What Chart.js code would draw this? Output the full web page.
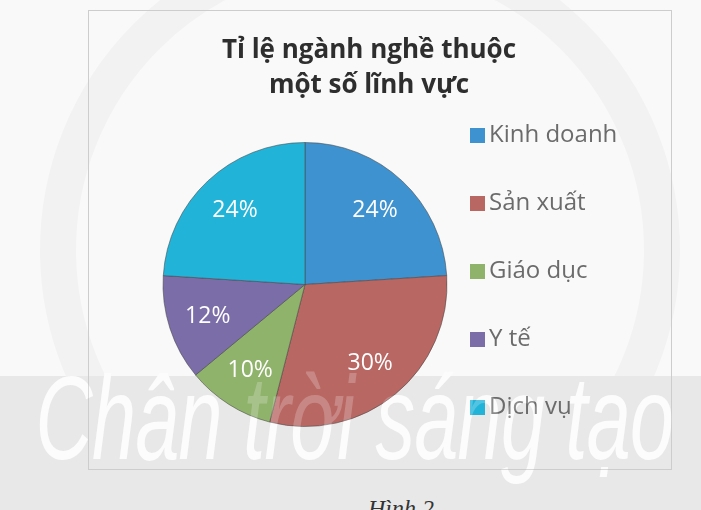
<!DOCTYPE html>
<html>
<head>
<meta charset="utf-8">
<script src="https://cdn.jsdelivr.net/npm/chart.js@4"></script>
<style>
  body { margin: 0; width: 701px; height: 510px; overflow: hidden; position: relative; background: #f9f9f9; font-family: "Open Sans", sans-serif; }
  #ring { position: absolute; left: 40px; top: -70px; width: 640px; height: 640px; border-radius: 50%; border: 36px solid #f2f2f2; box-sizing: border-box; }
  #band { position: absolute; left: 0; top: 376px; width: 701px; height: 134px; background: #e8e8e8; }
  .mark { position: absolute; left: -296px; top: 350px; width: 1301px; text-align: center; font-family: "Liberation Sans", sans-serif; font-style: italic; font-size: 118px; white-space: nowrap; transform: scaleX(0.67); letter-spacing: -1px; }
  #markBack { color: #fbfbfb; }
  #markFront { color: rgba(255,255,255,0.22); z-index: 3; }
  #box { position: absolute; left: 88px; top: 10px; width: 584px; height: 460px; border: 1px solid #cdcdcd; box-sizing: border-box; z-index: 2; }
  #myChart { position: absolute; left: 0; top: 0; }
  #caption { position: absolute; left: 368px; top: 495px; font-family: "Liberation Serif", serif; font-style: italic; font-size: 24px; color: #333; }
</style>
</head>
<body>
<div id="ring"></div>
<div id="band"></div>
<div id="markBack" class="mark">Chân trời sáng tạo</div>
<div id="box"><canvas id="myChart" width="582" height="458"></canvas></div>
<div id="markFront" class="mark">Chân trời sáng tạo</div>
<div id="caption">Hình 2</div>
<script>
const titleLines = ["Tỉ lệ ngành nghề thuộc", "một số lĩnh vực"];
const labels = ["Kinh doanh", "Sản xuất", "Giáo dục", "Y tế", "Dịch vụ"];
const values = [24, 30, 10, 12, 24];
const colors = ["#3e92cf", "#b86763", "#8fb36b", "#7b6da8", "#22b3d9"];

// title, legend and % labels are painted by hand so they can sit
// independently of the pie's box
const textPlugin = {
  id: "texts",
  afterDatasetsDraw(chart) {
    const c = chart.ctx;
    c.save();
    c.fillStyle = "#ffffff";
    c.font = "23px 'Open Sans'";
    c.textAlign = "center";
    c.textBaseline = "middle";
    chart.getDatasetMeta(0).data.forEach((arc, i) => {
      const p = arc.getProps(["x", "y", "startAngle", "endAngle", "outerRadius"]);
      const mid = (p.startAngle + p.endAngle) / 2;
      const r = p.outerRadius * 0.72;
      c.fillText(values[i] + "%", p.x + Math.cos(mid) * r, p.y + Math.sin(mid) * r);
    });
    c.restore();
  },
  afterDraw(chart) {
    const c = chart.ctx;
    c.save();
    c.fillStyle = "#2e2e2e";
    c.font = "bold 26px 'Open Sans'";
    c.textAlign = "center";
    c.textBaseline = "middle";
    titleLines.forEach((t, i) => c.fillText(t, 280, 40 + i * 35));

    c.font = "24px 'Open Sans'";
    c.textAlign = "left";
    labels.forEach((l, i) => {
      const y = 124 + i * 68;
      c.fillStyle = colors[i];
      c.fillRect(381, y - 7, 15, 15);
      c.fillStyle = "#6b6b6b";
      c.fillText(l, 400, y);
    });
    c.restore();
  },
};

new Chart(document.getElementById("myChart"), {
  type: "pie",
  data: {
    labels: labels,
    datasets: [
      {
        data: values,
        backgroundColor: colors,
        borderColor: "rgba(70,70,70,0.55)",
        borderWidth: 1,
      },
    ],
  },
  options: {
    responsive: false,
    animation: false,
    layout: {
      padding: { top: 131, bottom: 42, left: 60, right: 210 },
    },
    plugins: {
      legend: { display: false },
      title: { display: false },
      tooltip: { enabled: false },
    },
  },
  plugins: [textPlugin],
});
</script>
</body>
</html>
